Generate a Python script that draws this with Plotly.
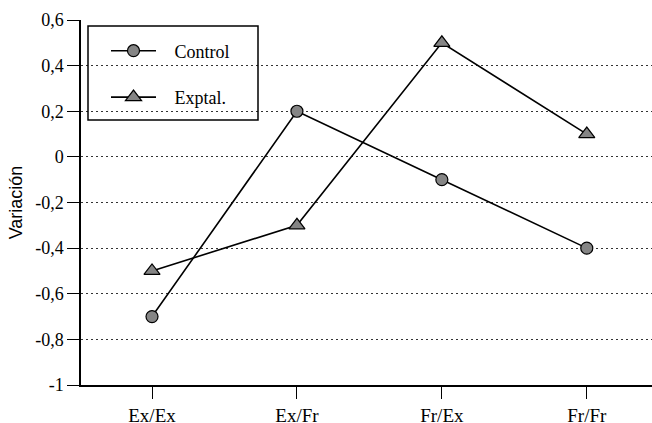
import plotly.graph_objects as go

categories = ["Ex/Ex", "Ex/Fr", "Fr/Ex", "Fr/Fr"]
control = [-0.7, 0.2, -0.1, -0.4]
exptal = [-0.5, -0.3, 0.5, 0.1]
tick_vals = [-1, -0.8, -0.6, -0.4, -0.2, 0, 0.2, 0.4, 0.6]
tick_text = ["-1", "-0,8", "-0,6", "-0,4", "-0,2", "0", "0,2", "0,4", "0,6"]

FONT = "Liberation Serif, Times New Roman, serif"
SANS = "Liberation Sans, Arial, sans-serif"
NB = "\u00a0"
fig = go.Figure()
fig.add_trace(go.Scatter(
    x=[0, 1, 2, 3], y=control, name=NB * 3 + "Control", mode="lines+markers",
    legendgroup="a",
    line=dict(color="black", width=1.6),
    marker=dict(symbol="circle", size=12, color="#858585", line=dict(color="black", width=1.2)),
))
fig.add_trace(go.Scatter(
    x=[0, 1, 2, 3], y=exptal, name=NB * 3 + "Exptal.", mode="lines+markers",
    legendgroup="b",
    line=dict(color="black", width=1.6),
    marker=dict(symbol="triangle-up", size=14, color="#858585", line=dict(color="black", width=1.2)),
))

# legend frame
fig.add_shape(type="rect", xref="paper", yref="paper",
              x0=(88 - 81) / 571, x1=(258 - 81) / 571,
              y0=1 - (120 - 20) / 365, y1=1 - (26 - 20) / 365,
              line=dict(color="black", width=1.5), fillcolor="rgba(0,0,0,0)", layer="above")

fig.update_layout(
    width=652, height=423,
    margin=dict(l=81, r=0, t=20, b=38, autoexpand=False),
    paper_bgcolor="white", plot_bgcolor="white",
    font=dict(family=FONT, size=17, color="black"),
    showlegend=True,
    legend=dict(
        x=(106 - 81) / 571, y=1 - (32.5 - 20) / 365, xanchor="left", yanchor="top",
        borderwidth=0, bgcolor="rgba(0,0,0,0)",
        font=dict(family=FONT, size=18),
        tracegroupgap=20, traceorder="grouped",
        itemwidth=45,
    ),
    xaxis=dict(
        range=[-0.49, 3.45], tickvals=[0, 1, 2, 3], ticktext=categories,
        showgrid=False, zeroline=False, showline=True, linecolor="black", linewidth=1.5,
        ticks="outside", ticklen=12, tickcolor="black", tickwidth=1.2,
        tickfont=dict(family=FONT, size=19), automargin=False,
    ),
    yaxis=dict(
        range=[-1, 0.6], tickvals=tick_vals, ticktext=tick_text,
        showgrid=True, gridcolor="#333333", griddash="2px,3px", gridwidth=1,
        zeroline=False, showline=True, linecolor="black", linewidth=1.5, mirror=True,
        ticks="outside", ticklen=12, tickcolor="black", tickwidth=1.2,
        tickfont=dict(family=FONT, size=18), automargin=False,
        title=dict(text="Variación", font=dict(family=SANS, size=18), standoff=8),
    ),
)
fig.write_html("out.html", config={"displayModeBar": False},
               post_script="document.body.style.margin='0';")
